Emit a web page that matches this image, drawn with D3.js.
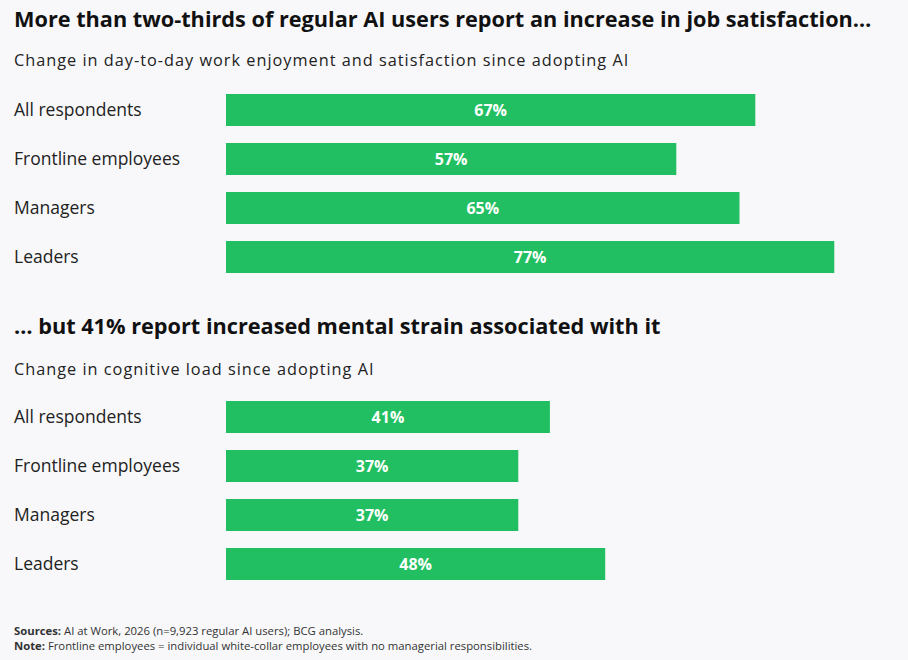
<!DOCTYPE html><html><head><meta charset="utf-8"><script src="https://cdn.jsdelivr.net/npm/d3@7"></script>
<style>body{margin:0;background:#f8f8fa}svg{display:block;font-family:"Open Sans",sans-serif}</style></head><body><svg id="c" width="908" height="660"></svg>
<script>
const categories=["All respondents","Frontline employees","Managers","Leaders"];
const satisfaction=[67,57,65,77];
const cognitive=[41,37,37,48];
const svg=d3.select("#c");
svg.append("rect").attr("width",908).attr("height",660).attr("fill","#f8f8fa");
const x=d3.scaleLinear().domain([0,100]).range([226,1016]);
function panel(title,ty,sub,sy,vals,y0){
  svg.append("text").attr("x",14).attr("y",ty).attr("font-size",21.7).attr("font-weight",700).attr("fill","#111").text(title);
  svg.append("text").attr("x",14).attr("y",sy).attr("font-size",16.3).attr("letter-spacing",1).attr("fill","#222").text(sub);
  const y=d3.scaleBand().domain(categories).range([y0,y0+179]).paddingInner(0.347).paddingOuter(0);
  const g=svg.append("g");
  categories.forEach((c,i)=>{
    g.append("text").attr("x",14).attr("y",y(c)+y.bandwidth()/2+6).attr("font-size",17.5).attr("fill","#222").text(c);
    g.append("rect").attr("x",x(0)).attr("y",y(c)).attr("width",x(vals[i])-x(0)).attr("height",y.bandwidth()).attr("fill","#21bf61");
    g.append("text").attr("x",(x(0)+x(vals[i]))/2).attr("y",y(c)+y.bandwidth()/2+6).attr("text-anchor","middle").attr("font-size",16).attr("font-weight",700).attr("fill","#fff").text(vals[i]+"%");
  });
}
panel("More than two-thirds of regular AI users report an increase in job satisfaction…",27,"Change in day-to-day work enjoyment and satisfaction since adopting AI",66,satisfaction,94);
panel("… but 41% report increased mental strain associated with it",334,"Change in cognitive load since adopting AI",375,cognitive,401);
const f=svg.append("text").attr("x",14).attr("y",635).attr("font-size",11.3).attr("fill","#333");
f.append("tspan").attr("font-weight",700).text("Sources: ");f.append("tspan").text("AI at Work, 2026 (n=9,923 regular AI users); BCG analysis.");
const f2=svg.append("text").attr("x",14).attr("y",650).attr("font-size",11.3).attr("fill","#333");
f2.append("tspan").attr("font-weight",700).text("Note: ");f2.append("tspan").text("Frontline employees = individual white-collar employees with no managerial responsibilities.");
</script></body></html>
